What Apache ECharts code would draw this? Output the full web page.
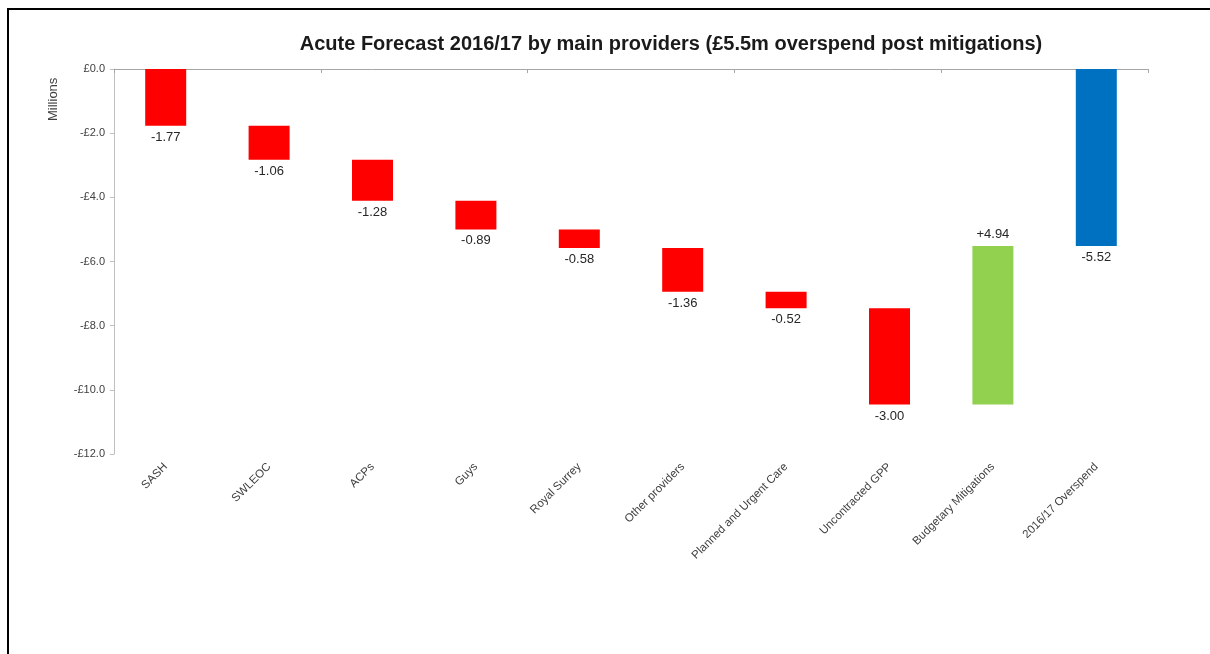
<!DOCTYPE html>
<html>
<head>
<meta charset="utf-8">
<script src="https://cdn.jsdelivr.net/npm/echarts@6/dist/echarts.min.js"></script>
<style>
html,body{margin:0;padding:0;background:#fff;}
#chart{width:1210px;height:654px;}
</style>
</head>
<body>
<div id="chart"></div>
<script>
// ---- data ----
var categories = ['SASH','SWLEOC','ACPs','Guys','Royal Surrey','Other providers','Planned and Urgent Care','Uncontracted GPP','Budgetary Mitigations','2016/17 Overspend'];
var changes = [-1.77, -1.06, -1.28, -0.89, -0.58, -1.36, -0.52, -3.00, 4.94, -5.52];
var kinds = ['loss','loss','loss','loss','loss','loss','loss','loss','gain','total'];
var yTicks = [0, -2, -4, -6, -8, -10, -12];
var colors = {loss:'#FF0000', gain:'#92D050', total:'#0070C0'};

// build waterfall base (invisible) and visible segments
var baseData = [], barData = [], running = 0;
for (var i = 0; i < changes.length; i++) {
  var c = changes[i], k = kinds[i];
  if (k === 'total') {
    baseData.push(0);
    barData.push({value: c, itemStyle:{color: colors.total}, label:{position:'bottom'}, raw: c});
  } else if (c < 0) {
    baseData.push(running);
    barData.push({value: c, itemStyle:{color: colors[k]}, label:{position:'bottom'}, raw: c});
    running += c;
  } else {
    baseData.push(running + c);
    barData.push({value: -c, itemStyle:{color: colors[k]}, label:{position:'top'}, raw: c});
    running += c;
  }
}

var FONT = 'Liberation Sans, Arial, sans-serif';
var chart = echarts.init(document.getElementById('chart'), null, {renderer:'canvas'});
chart.setOption({
  animation: false,
  backgroundColor: '#ffffff',
  title: {
    text: 'Acute Forecast 2016/17 by main providers (£5.5m overspend post mitigations)',
    left: 666, top: 29, textAlign: 'center',
    textStyle: {fontFamily:FONT, fontSize:20, fontWeight:'bold', color:'#1a1a1a'}
  },
  graphic: [
    {type:'rect', shape:{x:8, y:9, width:1300, height:700}, style:{fill:'none', stroke:'#000', lineWidth:2}, silent:true},
    {type:'text', x:47, y:121, rotation:Math.PI/2, style:{text:'Millions', fontFamily:FONT, fontSize:13, fill:'#404040'}}
  ],
  grid: {left:114, right:62, top:69, bottom:200},
  xAxis: [
    {type:'category', data:categories, position:'top',
      axisLine:{show:true, onZero:false, lineStyle:{color:'#a6a6a6'}},
      axisTick:{show:true, inside:true, length:4, lineStyle:{color:'#a6a6a6'}},
      axisLabel:{show:false}, splitLine:{show:false}},
    {type:'category', data:categories, position:'bottom',
      axisLine:{show:false}, axisTick:{show:false}, splitLine:{show:false},
      axisLabel:{show:true, rotate:45, margin:11, interval:0, fontSize:11.5,
        fontFamily:FONT, color:'#404040'}}
  ],
  yAxis: {
    type:'value', min:-12, max:0, interval:2,
    axisLine:{show:true, lineStyle:{color:'#bfbfbf'}},
    axisTick:{show:true, length:4, lineStyle:{color:'#bfbfbf'}},
    splitLine:{show:false},
    axisLabel:{fontSize:11, margin:9, fontFamily:FONT, color:'#404040',
      formatter:function(v){ return (v < 0 ? '-£' : '£') + Math.abs(v).toFixed(1); }}
  },
  series: [
    {type:'bar', stack:'wf', data:baseData, barWidth:41, itemStyle:{color:'transparent'}, silent:true, xAxisIndex:0},
    {type:'bar', stack:'wf', data:barData, barWidth:41, xAxisIndex:0,
      label:{show:true, distance:5, fontSize:13, fontFamily:FONT, color:'#262626',
        formatter:function(p){ var r = p.data.raw; return (r > 0 ? '+' : '') + r.toFixed(2); }}}
  ]
});
</script>
</body>
</html>
